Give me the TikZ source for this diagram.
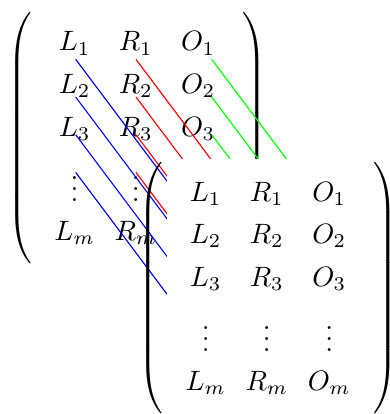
\documentclass[tikz,border=0pt]{standalone}
\usepackage{tikz}
\usetikzlibrary{matrix, calc}

\begin{document}
\begin{tikzpicture}[
    mat/.style={matrix of math nodes, left delimiter=(, right delimiter=),
                inner xsep=3.3pt, inner ysep=5pt, nodes={inner sep=0.3333em},
                row sep=0.2pt, column sep=0.4pt}]

  \useasboundingbox (-48.93pt,49.29pt) rectangle (90.36pt,-98.57pt);

  \matrix[mat] (m1) at (0,0) {
    L_1 & R_1 & O_1 \\
    L_2 & R_2 & O_2 \\
    L_3 & R_3 & O_3 \\
    \vdots & \vdots & \vdots \\
    L_m & R_m & O_m \\
  };

  \foreach \k in {0,...,3} {
    \draw[blue] ($(m1.center)+(-21.9pt,28.1pt-\k*13.46pt)$) -- ++(36pt,-48pt);
    \draw[red] ($(m1.center)+(-0.36pt,28.1pt-\k*13.46pt)$) -- ++(36pt,-48pt);
  }
  \foreach \k in {0,...,2}
    \draw[green] ($(m1.center)+(26.7pt,28.1pt-\k*13.46pt)$) -- ++(36pt,-48pt);

  \matrix[mat, fill=white] (m2) at (46.8pt,-53.6pt) {
    L_1 & R_1 & O_1 \\
    L_2 & R_2 & O_2 \\
    L_3 & R_3 & O_3 \\
    \vdots & \vdots & \vdots \\
    L_m & R_m & O_m \\
  };

\end{tikzpicture}
\end{document}
